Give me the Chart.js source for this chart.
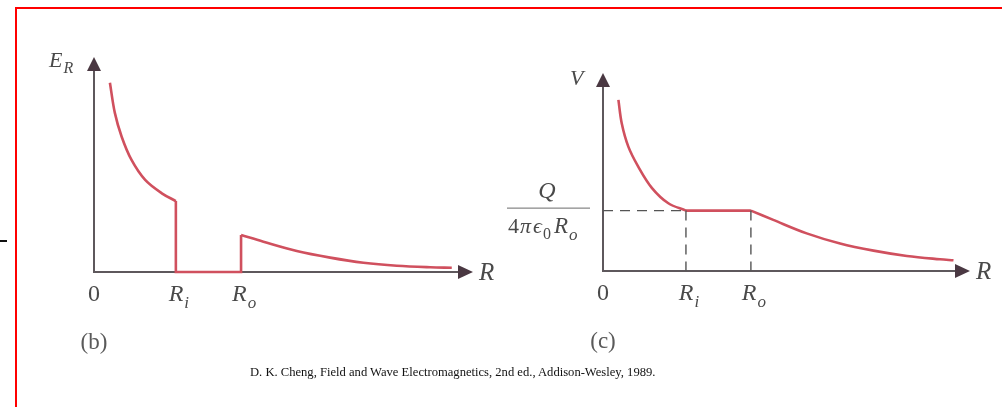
<!DOCTYPE html>
<html>
<head>
<meta charset="utf-8">
<script src="https://cdn.jsdelivr.net/npm/chart.js@4.4.1/dist/chart.umd.min.js"></script>
<style>
  html, body { margin: 0; padding: 0; background: #fff; }
  body { width: 1002px; height: 407px; position: relative; overflow: hidden; }
  canvas { position: absolute; left: 0; top: 0; }
  #frame { position: absolute; left: 15px; top: 7px; width: 1100px; height: 500px;
           border-left: 2px solid #ff0000; border-top: 2px solid #ff0000; }
  #mark { position: absolute; left: 0; top: 240px; width: 7px; height: 2px; background: #111; }
  #credit { position: absolute; left: 250px; top: 364px; white-space: nowrap;
            font: 12.6px "Liberation Serif", serif; color: #111; line-height: 16px; }
</style>
</head>
<body>
<div id="frame"></div>
<div id="mark"></div>
<canvas id="fieldChart" width="1002" height="407"></canvas>
<canvas id="potentialChart" width="1002" height="407"></canvas>
<div id="credit">D. K. Cheng, Field and Wave Electromagnetics, 2nd ed., Addison-Wesley, 1989.</div>

<script>
// (b) radial field E_R against R
const bInnerR = [0.42, 0.55, 0.73, 0.99, 1.35, 1.79, 2.16];
const bInnerE = [8.80, 7.40, 6.29, 5.21, 4.28, 3.66, 3.30];
const bShellR = [2.16, 2.16, 3.88, 3.88];
const bShellE = [3.30, 0, 0, 1.72];
const bOuterR = [3.88, 4.47, 5.35, 6.23, 7.11, 7.99, 8.87, 9.44];
const bOuterE = [1.72, 1.41, 0.98, 0.67, 0.43, 0.29, 0.22, 0.20];

// (c) potential V against R
const cInnerR = [0.42, 0.51, 0.69, 0.96, 1.33, 1.78, 2.26];
const cInnerV = [8.64, 7.46, 6.28, 5.27, 4.20, 3.42, 3.05];
const cShellR = [2.26, 4.03];
const cShellV = [3.05, 3.05];
const cOuterR = [4.03, 4.64, 5.55, 6.46, 7.37, 8.28, 9.18, 9.55];
const cOuterV = [3.05, 2.58, 1.90, 1.39, 1.03, 0.76, 0.59, 0.54];

// radii marked on the R axis: 0, Ri, Ro
const bTickR = [0, 2.16, 3.88];
const cTickR = [0, 2.26, 4.03];
const tickMain = ['0', 'R', 'R'];
const tickSub = ['', 'i', 'o'];

const CURVE = '#d0505e';
const AXIS = '#5e585c';
const ARROW = '#4a3842';
const INK = '#4a4a4a';
const SERIF = '"Liberation Serif", "DejaVu Serif", serif';

function pts(xs, ys) {
  return xs.map((x, i) => ({ x: x, y: ys[i] }));
}

function curve(xs, ys, smooth) {
  return {
    data: pts(xs, ys),
    borderColor: CURVE,
    borderWidth: 2.6,
    pointRadius: 0,
    fill: false,
    clip: false,
    tension: smooth ? 0.35 : 0,
    borderJoinStyle: 'miter',
    borderCapStyle: 'butt'
  };
}

function guide(xs, ys) {
  return {
    data: pts(xs, ys),
    borderColor: '#555',
    borderWidth: 1.4,
    borderDash: [10, 7],
    pointRadius: 0,
    fill: false,
    clip: false,
    tension: 0
  };
}

// letter with an optional subscript, x is the left edge
function subText(ctx, x, y, main, sub, size, italic, subItalic) {
  ctx.font = (italic ? 'italic ' : '') + size + 'px ' + SERIF;
  ctx.textAlign = 'left';
  ctx.fillText(main, x, y);
  let w = ctx.measureText(main).width;
  if (sub) {
    ctx.font = (subItalic ? 'italic ' : '') + Math.round(size * 0.72) + 'px ' + SERIF;
    ctx.fillText(sub, x + w + 1, y + size * 0.28);
    w += ctx.measureText(sub).width + 1;
  }
  return w;
}

function measureSub(ctx, main, sub, size, italic) {
  ctx.font = (italic ? 'italic ' : '') + size + 'px ' + SERIF;
  let w = ctx.measureText(main).width;
  if (sub) {
    ctx.font = 'italic ' + Math.round(size * 0.72) + 'px ' + SERIF;
    w += ctx.measureText(sub).width + 1;
  }
  return w;
}

// axes with arrowheads, tick names, axis names and panel caption
const figurePlugin = {
  id: 'figure',
  beforeDatasetsDraw(chart, args, o) {
    const ctx = chart.ctx, xs = chart.scales.x, ys = chart.scales.y;
    const x0 = xs.getPixelForValue(0), y0 = ys.getPixelForValue(0);
    const xEnd = xs.getPixelForValue(xs.max), yTop = ys.getPixelForValue(ys.max);
    ctx.save();
    ctx.strokeStyle = AXIS;
    ctx.lineWidth = 2;
    ctx.beginPath();
    ctx.moveTo(x0, yTop + 8);
    ctx.lineTo(x0, y0);
    ctx.lineTo(xEnd - 8, y0);
    ctx.stroke();
    ctx.fillStyle = ARROW;
    ctx.beginPath();
    ctx.moveTo(x0, yTop);
    ctx.lineTo(x0 - 7, yTop + 14);
    ctx.lineTo(x0 + 7, yTop + 14);
    ctx.closePath();
    ctx.fill();
    ctx.beginPath();
    ctx.moveTo(xEnd, y0);
    ctx.lineTo(xEnd - 15, y0 - 7);
    ctx.lineTo(xEnd - 15, y0 + 7);
    ctx.closePath();
    ctx.fill();
    ctx.restore();
  },
  afterDatasetsDraw(chart, args, o) {
    const ctx = chart.ctx, xs = chart.scales.x, ys = chart.scales.y;
    const x0 = xs.getPixelForValue(0), y0 = ys.getPixelForValue(0);
    const xEnd = xs.getPixelForValue(xs.max), yTop = ys.getPixelForValue(ys.max);
    ctx.save();
    ctx.fillStyle = INK;
    ctx.textBaseline = 'alphabetic';

    // tick names under the R axis
    o.ticks.forEach((r, i) => {
      const italic = tickSub[i] !== '';
      const w = measureSub(ctx, tickMain[i], tickSub[i], 24, italic);
      const px = xs.getPixelForValue(r) - w / 2 + (italic ? 3 : 0);
      subText(ctx, px, y0 + 29, tickMain[i], tickSub[i], 24, italic, true);
    });

    // axis names
    subText(ctx, xEnd + 6, y0 + 8, 'R', '', 25, true, true);
    subText(ctx, x0 + o.yName.dx, yTop + o.yName.dy, o.yName.main, o.yName.sub, o.yName.size, true, true);

    // panel caption
    ctx.font = '23px ' + SERIF;
    ctx.textAlign = 'center';
    ctx.fillStyle = '#5a5a5a';
    ctx.fillText(o.caption, x0, y0 + 77);

    // Q / (4 pi eps0 Ro) level
    if (o.level !== undefined) {
      const ly = ys.getPixelForValue(o.level) - 2.5;
      ctx.fillStyle = INK;
      ctx.strokeStyle = '#6a6a6a';
      ctx.lineWidth = 1;
      ctx.beginPath();
      ctx.moveTo(x0 - 96, ly);
      ctx.lineTo(x0 - 13, ly);
      ctx.stroke();
      ctx.font = 'italic 24px ' + SERIF;
      ctx.textAlign = 'center';
      ctx.fillText('Q', x0 - 56, ly - 10);
      ctx.textAlign = 'left';
      let x = x0 - 95;
      const by = ly + 25;
      ctx.font = '22px ' + SERIF;
      ctx.fillText('4', x, by);
      x += ctx.measureText('4').width + 1;
      ctx.font = 'italic 22px ' + SERIF;
      ctx.fillText('\u03c0', x, by);
      x += ctx.measureText('\u03c0').width + 2;
      x += subText(ctx, x, by, '\u03f5', '0', 22, true, false) + 3;
      subText(ctx, x, by, 'R', 'o', 23, true, true);
    }
    ctx.restore();
  }
};

function panel(id, datasets, pad, fig) {
  return new Chart(document.getElementById(id), {
    type: 'scatter',
    data: { datasets: datasets },
    options: {
      responsive: false,
      animation: false,
      events: [],
      showLine: true,
      layout: { padding: pad },
      scales: {
        x: { type: 'linear', min: 0, max: 10, display: false },
        y: { type: 'linear', min: 0, max: 10, display: false }
      },
      plugins: {
        legend: { display: false },
        tooltip: { enabled: false },
        figure: fig
      }
    },
    plugins: [figurePlugin]
  });
}

panel('fieldChart', [
  curve(bInnerR, bInnerE, true),
  curve(bShellR, bShellE, false),
  curve(bOuterR, bOuterE, true)
], { left: 94, right: 529, top: 57, bottom: 135 }, {
  ticks: bTickR,
  yName: { main: 'E', sub: 'R', size: 22, dx: -45, dy: 10 },
  caption: '(b)'
});

panel('potentialChart', [
  guide([0, cShellR[0]], [cShellV[0], cShellV[0]]),
  guide([cShellR[0], cShellR[0]], [cShellV[0], 0]),
  guide([cShellR[1], cShellR[1]], [cShellV[1], 0]),
  curve(cInnerR, cInnerV, true),
  curve(cShellR, cShellV, false),
  curve(cOuterR, cOuterV, true)
], { left: 603, right: 32, top: 73, bottom: 136 }, {
  ticks: cTickR,
  yName: { main: 'V', sub: '', size: 22, dx: -33, dy: 12 },
  caption: '(c)',
  level: cShellV[0]
});
</script>
</body>
</html>
